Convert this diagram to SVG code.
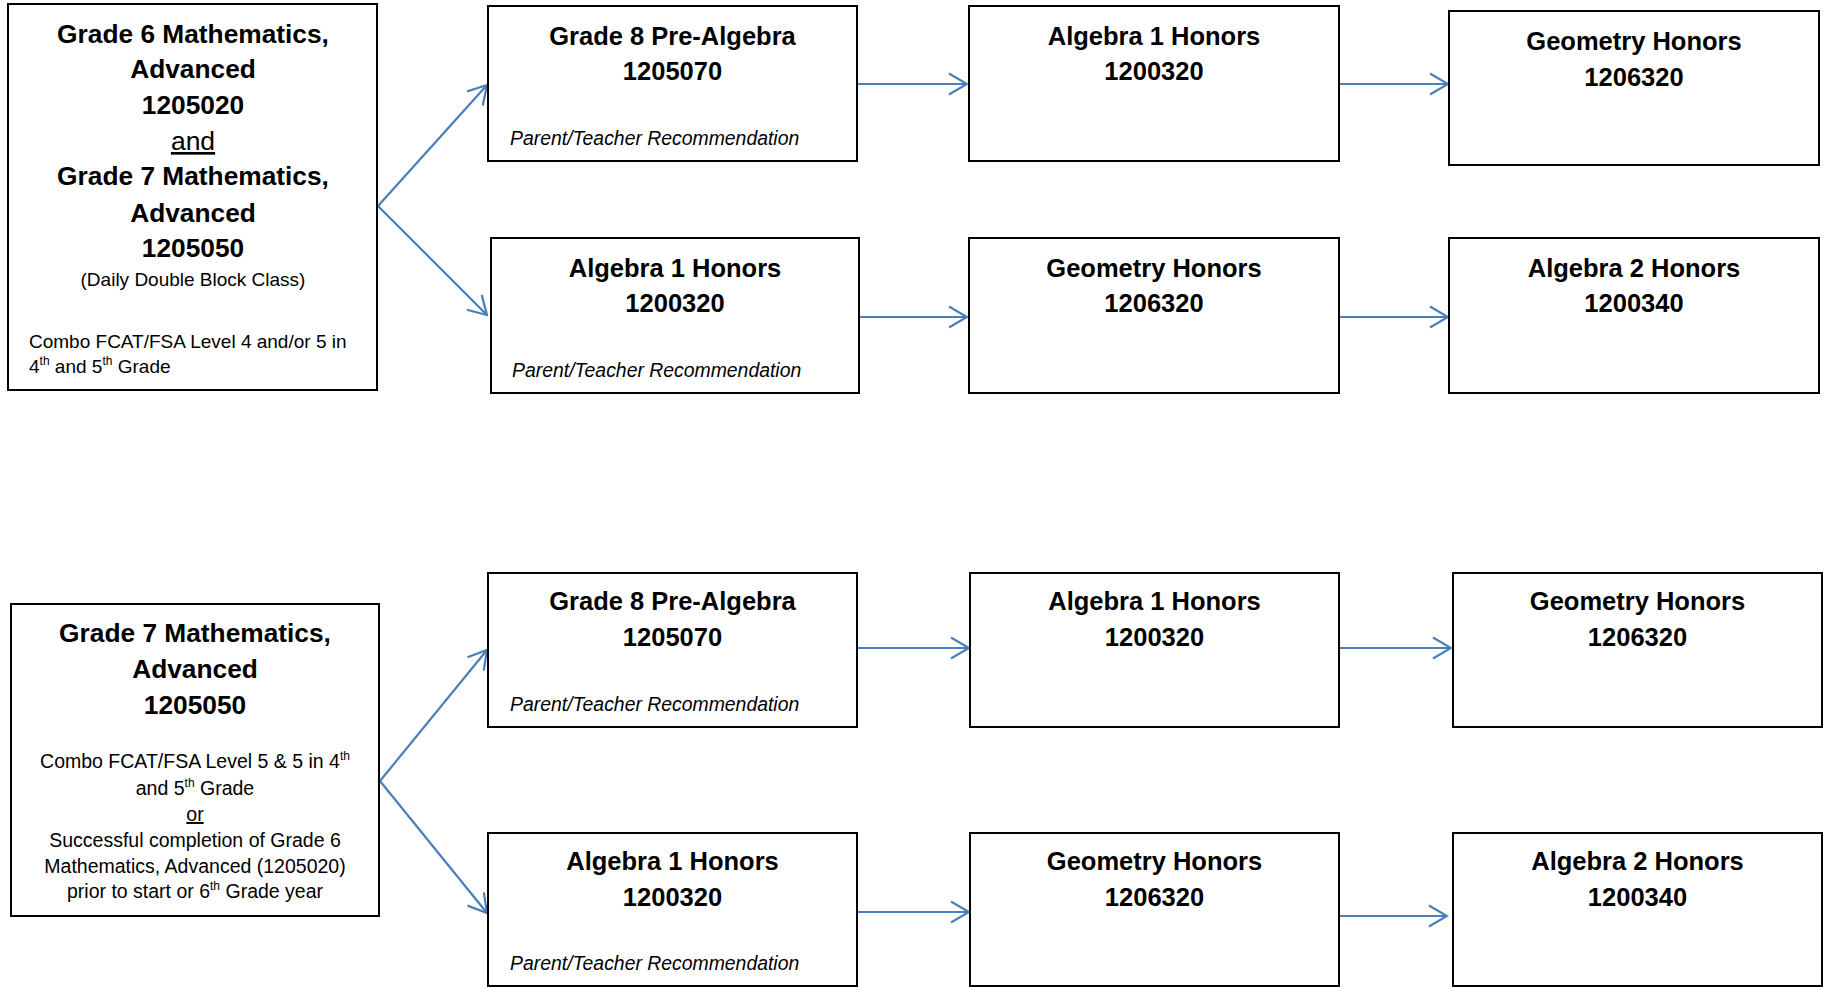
<svg xmlns="http://www.w3.org/2000/svg" width="1826" height="987" viewBox="0 0 1826 987">
<style>
.box{fill:#fff;stroke:#000;stroke-width:2}
.t{font-family:"Liberation Sans",Arial,sans-serif;font-weight:bold;font-size:25.5px;fill:#000;text-anchor:middle}
.b{font-size:26.3px}
.s{font-family:"Liberation Sans",Arial,sans-serif;font-size:19px;fill:#000}
.s2{font-size:19.5px}
.c{text-anchor:middle}
.i{font-family:"Liberation Sans",Arial,sans-serif;font-style:italic;font-size:19.4px;fill:#000}
.u{text-decoration:underline}
.con{stroke:#4a7ebb;stroke-width:2.2;fill:none;marker-end:url(#ah)}
</style>
<defs>
<marker id="ah" markerUnits="userSpaceOnUse" viewBox="-22 -13 24 26" refX="0" refY="0" markerWidth="24" markerHeight="26" orient="auto">
<path d="M-18,-10.5 L0,0 L-18,10.5" fill="none" stroke="#4a7ebb" stroke-width="2.2"/>
</marker>
</defs>
<rect width="1826" height="987" fill="#fff"/>

<g id="connectors">
<path class="con" d="M378,206 L487,85"/>
<path class="con" d="M378,206 L487,315"/>
<path class="con" d="M857,84 L967,84"/>
<path class="con" d="M1339,84 L1448,84"/>
<path class="con" d="M859,317 L967,317"/>
<path class="con" d="M1339,317 L1448,317"/>
<path class="con" d="M380,781 L487,650"/>
<path class="con" d="M380,781 L487,913"/>
<path class="con" d="M858,648 L969,648"/>
<path class="con" d="M1339,648 L1451,648"/>
<path class="con" d="M858,912 L969,912"/>
<path class="con" d="M1339,916 L1447,916"/>
</g>

<g id="n-g6g7">
<rect class="box" x="8" y="4" width="369" height="386"/>
<text class="t b" x="193" y="43">Grade 6 Mathematics,</text>
<text class="t b" x="193" y="78">Advanced</text>
<text class="t b" x="193" y="114">1205020</text>
<text class="t u" x="193" y="150" style="font-weight:normal;font-size:26.5px">and</text>
<text class="t b" x="193" y="185">Grade 7 Mathematics,</text>
<text class="t b" x="193" y="222">Advanced</text>
<text class="t b" x="193" y="257">1205050</text>
<text class="s c" x="193" y="286">(Daily Double Block Class)</text>
<text class="s" x="29" y="348">Combo FCAT/FSA Level 4 and/or 5 in</text>
<text class="s" x="29" y="373">4<tspan font-size="12" dy="-8">th</tspan><tspan dy="8"> and 5</tspan><tspan font-size="12" dy="-8">th</tspan><tspan dy="8"> Grade</tspan></text>
</g>

<g id="n-r1c2">
<rect class="box" x="488" y="6" width="369" height="155"/>
<text class="t" x="672.5" y="45">Grade 8 Pre-Algebra</text>
<text class="t" x="672.5" y="80">1205070</text>
<text class="i" x="510" y="145">Parent/Teacher Recommendation</text>
</g>
<g id="n-r1c3">
<rect class="box" x="969" y="6" width="370" height="155"/>
<text class="t" x="1154" y="45">Algebra 1 Honors</text>
<text class="t" x="1154" y="80">1200320</text>
</g>
<g id="n-r1c4">
<rect class="box" x="1449" y="11" width="370" height="154"/>
<text class="t" x="1634" y="50">Geometry Honors</text>
<text class="t" x="1634" y="86">1206320</text>
</g>

<g id="n-r2c2">
<rect class="box" x="491" y="238" width="368" height="155"/>
<text class="t" x="675" y="277">Algebra 1 Honors</text>
<text class="t" x="675" y="312">1200320</text>
<text class="i" x="512" y="377">Parent/Teacher Recommendation</text>
</g>
<g id="n-r2c3">
<rect class="box" x="969" y="238" width="370" height="155"/>
<text class="t" x="1154" y="277">Geometry Honors</text>
<text class="t" x="1154" y="312">1206320</text>
</g>
<g id="n-r2c4">
<rect class="box" x="1449" y="238" width="370" height="155"/>
<text class="t" x="1634" y="277">Algebra 2 Honors</text>
<text class="t" x="1634" y="312">1200340</text>
</g>

<g id="n-g7">
<rect class="box" x="11" y="604" width="368" height="312"/>
<text class="t b" x="195" y="642">Grade 7 Mathematics,</text>
<text class="t b" x="195" y="678">Advanced</text>
<text class="t b" x="195" y="714">1205050</text>
<text class="s s2 c" x="195" y="768">Combo FCAT/FSA Level 5 &amp; 5 in 4<tspan font-size="12" dy="-8">th</tspan></text>
<text class="s s2 c" x="195" y="795">and 5<tspan font-size="12" dy="-8">th</tspan><tspan dy="8"> Grade</tspan></text>
<text class="s s2 c u" x="195" y="821">or</text>
<text class="s s2 c" x="195" y="847">Successful completion of Grade 6</text>
<text class="s s2 c" x="195" y="873">Mathematics, Advanced (1205020)</text>
<text class="s s2 c" x="195" y="898">prior to start or 6<tspan font-size="12" dy="-8">th</tspan><tspan dy="8"> Grade year</tspan></text>
</g>

<g id="n-r3c2">
<rect class="box" x="488" y="573" width="369" height="154"/>
<text class="t" x="672.5" y="610">Grade 8 Pre-Algebra</text>
<text class="t" x="672.5" y="646">1205070</text>
<text class="i" x="510" y="711">Parent/Teacher Recommendation</text>
</g>
<g id="n-r3c3">
<rect class="box" x="970" y="573" width="369" height="154"/>
<text class="t" x="1154.5" y="610">Algebra 1 Honors</text>
<text class="t" x="1154.5" y="646">1200320</text>
</g>
<g id="n-r3c4">
<rect class="box" x="1453" y="573" width="369" height="154"/>
<text class="t" x="1637.5" y="610">Geometry Honors</text>
<text class="t" x="1637.5" y="646">1206320</text>
</g>

<g id="n-r4c2">
<rect class="box" x="488" y="833" width="369" height="153"/>
<text class="t" x="672.5" y="870">Algebra 1 Honors</text>
<text class="t" x="672.5" y="906">1200320</text>
<text class="i" x="510" y="970">Parent/Teacher Recommendation</text>
</g>
<g id="n-r4c3">
<rect class="box" x="970" y="833" width="369" height="153"/>
<text class="t" x="1154.5" y="870">Geometry Honors</text>
<text class="t" x="1154.5" y="906">1206320</text>
</g>
<g id="n-r4c4">
<rect class="box" x="1453" y="833" width="369" height="153"/>
<text class="t" x="1637.5" y="870">Algebra 2 Honors</text>
<text class="t" x="1637.5" y="906">1200340</text>
</g>
</svg>
